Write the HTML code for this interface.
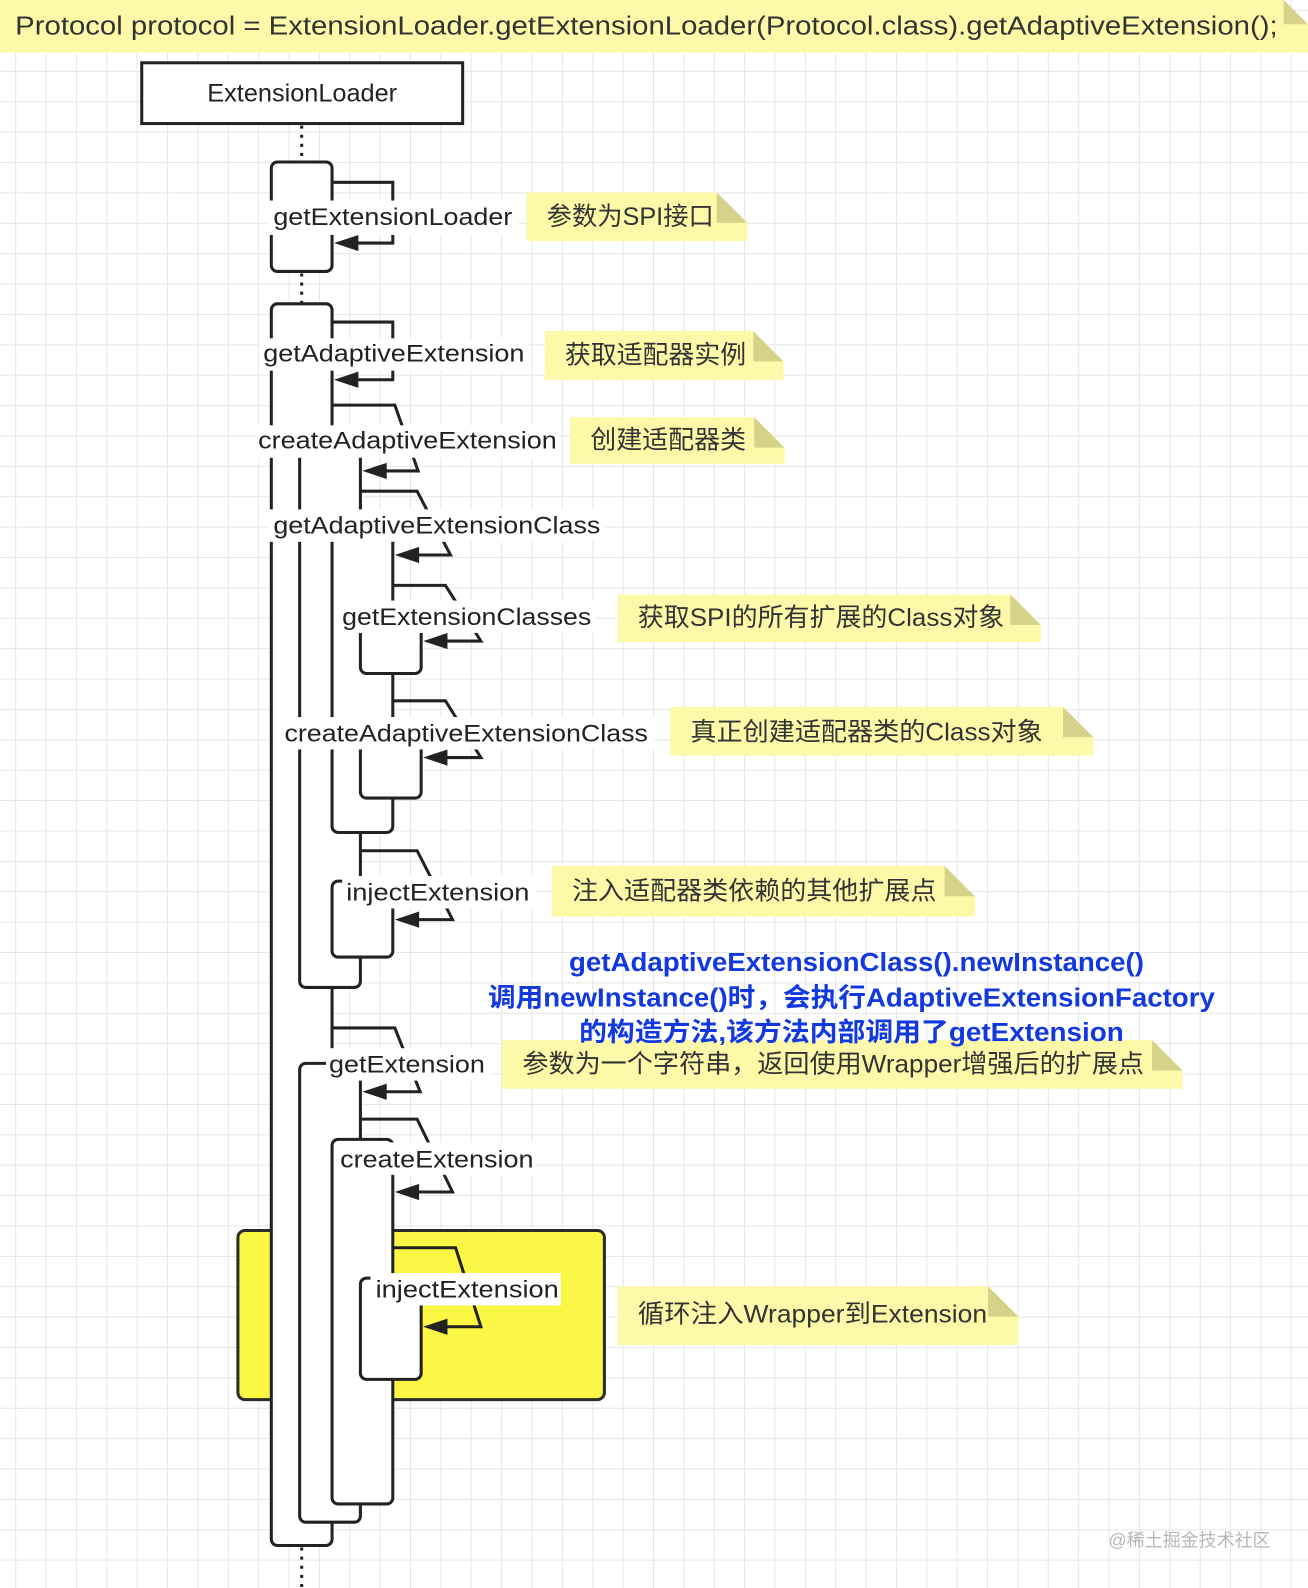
<!DOCTYPE html>
<html><head><meta charset="utf-8"><style>
html,body{margin:0;padding:0;background:#fff;overflow:hidden;}
#wrap{width:1292px;height:1568px;transform-origin:0 0;transform:scale(1.01238,1.01276);}
svg text{font-family:"Liberation Sans","Noto Sans CJK SC",sans-serif;}
</style></head><body><div id="wrap">
<svg width="1292" height="1568" viewBox="0 0 1292 1568" xmlns="http://www.w3.org/2000/svg">
<defs>
<pattern id="g" x="15" y="10" width="30" height="30" patternUnits="userSpaceOnUse">
<path d="M0,0 V30 M0,0 H30" stroke="#e6e6e6" stroke-width="2" fill="none"/>
</pattern>
</defs>
<rect width="1292" height="1568" fill="#fff"/>
<rect width="1292" height="1568" fill="url(#g)"/>

<path d="M0,0 H1268 L1292,24 V52 H0 Z" fill="#fdf9a8"/>
<polygon points="1268,0 1292,24 1268,24" fill="#d6d28a"/>
<text x="15" y="34" font-size="26" fill="#333" textLength="1247" lengthAdjust="spacingAndGlyphs">Protocol protocol = ExtensionLoader.getExtensionLoader(Protocol.class).getAdaptiveExtension();</text>

<rect x="140" y="62" width="317" height="60" fill="#fff" stroke="#222" stroke-width="3"/>
<text x="298.5" y="100" font-size="25" fill="#222" text-anchor="middle">ExtensionLoader</text>

<g stroke="#222" stroke-width="3" stroke-dasharray="3 6">
<line x1="298" y1="124" x2="298" y2="160"/>
<line x1="298" y1="270" x2="298" y2="300"/>
<line x1="298" y1="1528" x2="298" y2="1568"/>
</g>

<rect x="235" y="1215" width="362" height="167" rx="7" fill="#fcf745" stroke="#2a2a2a" stroke-width="3"/>

<g fill="#fff" stroke="#222" stroke-width="3">
<rect x="268" y="160" width="60" height="108" rx="6"/>
<rect x="268" y="300" width="60" height="1226" rx="6"/>
<rect x="296" y="425" width="60" height="550" rx="6"/>
<rect x="328" y="510" width="60" height="312" rx="6"/>
<rect x="356" y="600" width="60" height="65" rx="6"/>
<rect x="356" y="712" width="60" height="76" rx="6"/>
<rect x="328" y="870" width="60" height="75" rx="6"/>
<rect x="296" y="1050" width="60" height="453" rx="6"/>
<rect x="328" y="1125" width="60" height="360" rx="6"/>
<rect x="356" y="1262" width="60" height="100" rx="6"/>
</g>

<g fill="none" stroke="#222" stroke-width="3">
<path d="M328,180 H388 V240 H348"/>
<path d="M328,318 H388 V375 H348"/>
<path d="M328,400 H390 L413,465 H376"/>
<path d="M356,485 H412 L445,548 H408"/>
<path d="M388,578 H440 L475,633 H436"/>
<path d="M388,692 H440 L475,748 H436"/>
<path d="M356,840 H412 L447,908 H408"/>
<path d="M328,1015 H390 L415,1078 H376"/>
<path d="M356,1105 H412 L447,1177 H408"/>
<path d="M388,1232 H450 L475,1310 H436"/>
</g>
<g fill="#222">
<polygon points="330,240 354,232 354,248"/>
<polygon points="330,375 354,367 354,383"/>
<polygon points="358,465 382,457 382,473"/>
<polygon points="390,548 414,540 414,556"/>
<polygon points="418,633 442,625 442,641"/>
<polygon points="418,748 442,740 442,756"/>
<polygon points="390,908 414,900 414,916"/>
<polygon points="358,1078 382,1070 382,1086"/>
<polygon points="390,1177 414,1169 414,1185"/>
<polygon points="418,1310 442,1302 442,1318"/>
</g>

<g fill="#fff">
<rect x="266" y="198" width="246" height="34"/>
<rect x="256" y="334" width="266" height="32"/>
<rect x="252" y="420" width="300" height="32"/>
<rect x="266" y="503" width="332" height="32"/>
<rect x="334" y="593" width="254" height="32"/>
<rect x="276" y="708" width="370" height="32"/>
<rect x="338" y="865" width="190" height="32"/>
<rect x="322" y="1035" width="162" height="32"/>
<rect x="332" y="1128" width="198" height="32"/>
<rect x="366" y="1257" width="188" height="32"/>
</g>
<g font-size="24" fill="#222">
<text x="270" y="222" textLength="236" lengthAdjust="spacingAndGlyphs">getExtensionLoader</text>
<text x="260" y="357" textLength="258" lengthAdjust="spacingAndGlyphs">getAdaptiveExtension</text>
<text x="255" y="443" textLength="295" lengthAdjust="spacingAndGlyphs">createAdaptiveExtension</text>
<text x="270" y="527" textLength="323" lengthAdjust="spacingAndGlyphs">getAdaptiveExtensionClass</text>
<text x="338" y="617" textLength="246" lengthAdjust="spacingAndGlyphs">getExtensionClasses</text>
<text x="281" y="732" textLength="359" lengthAdjust="spacingAndGlyphs">createAdaptiveExtensionClass</text>
<text x="342" y="889" textLength="181" lengthAdjust="spacingAndGlyphs">injectExtension</text>
<text x="325" y="1059" textLength="154" lengthAdjust="spacingAndGlyphs">getExtension</text>
<text x="336" y="1153" textLength="191" lengthAdjust="spacingAndGlyphs">createExtension</text>
<text x="371" y="1281" textLength="181" lengthAdjust="spacingAndGlyphs">injectExtension</text>
</g>

<g fill="#fdf9a8">
<path d="M520,190 H708 L738,220 V238 H520 Z"/>
<path d="M538,327 H744 L774,357 V375 H538 Z"/>
<path d="M563,412 H745 L775,442 V458 H563 Z"/>
<path d="M610,587 H998 L1028,617 V634 H610 Z"/>
<path d="M662,698 H1050 L1080,728 V746 H662 Z"/>
<path d="M545,855 H933 L963,885 V905 H545 Z"/>
<path d="M496,1027 H1138 L1168,1057 V1075 H496 Z"/>
<path d="M610,1270 H976 L1006,1300 V1328 H610 Z"/>
</g>
<g fill="#d6d28a">
<polygon points="708,190 738,220 708,220"/>
<polygon points="744,327 774,357 744,357"/>
<polygon points="745,412 775,442 745,442"/>
<polygon points="998,587 1028,617 998,617"/>
<polygon points="1050,698 1080,728 1050,728"/>
<polygon points="933,855 963,885 933,885"/>
<polygon points="1138,1027 1168,1057 1138,1057"/>
<polygon points="976,1270 1006,1300 976,1300"/>
</g>
<g font-size="25" fill="#333">
<text x="540" y="222" textLength="165" lengthAdjust="spacingAndGlyphs">参数为SPI接口</text>
<text x="558" y="359" textLength="179" lengthAdjust="spacingAndGlyphs">获取适配器实例</text>
<text x="583" y="443" textLength="154" lengthAdjust="spacingAndGlyphs">创建适配器类</text>
<text x="630" y="618" textLength="362" lengthAdjust="spacingAndGlyphs">获取SPI的所有扩展的Class对象</text>
<text x="682" y="731" textLength="348" lengthAdjust="spacingAndGlyphs">真正创建适配器类的Class对象</text>
<text x="565" y="888" textLength="360" lengthAdjust="spacingAndGlyphs">注入适配器类依赖的其他扩展点</text>
<text x="516" y="1059" textLength="614" lengthAdjust="spacingAndGlyphs">参数为一个字符串，返回使用Wrapper增强后的扩展点</text>
<text x="630" y="1306" textLength="345" lengthAdjust="spacingAndGlyphs">循环注入Wrapper到Extension</text>
</g>

<g font-size="26" font-weight="bold" fill="#1238e0">
<text x="562" y="959" textLength="568" lengthAdjust="spacingAndGlyphs">getAdaptiveExtensionClass().newInstance()</text>
<text x="482" y="994" textLength="718" lengthAdjust="spacingAndGlyphs">调用newInstance()时，会执行AdaptiveExtensionFactory</text>
<text x="572" y="1028" textLength="538" lengthAdjust="spacingAndGlyphs">的构造方法,该方法内部调用了getExtension</text>
</g>

<text x="1095" y="1527" font-size="18" fill="#b8b8b8" textLength="160" lengthAdjust="spacingAndGlyphs">@稀土掘金技术社区</text>
</svg>
</div></body></html>
